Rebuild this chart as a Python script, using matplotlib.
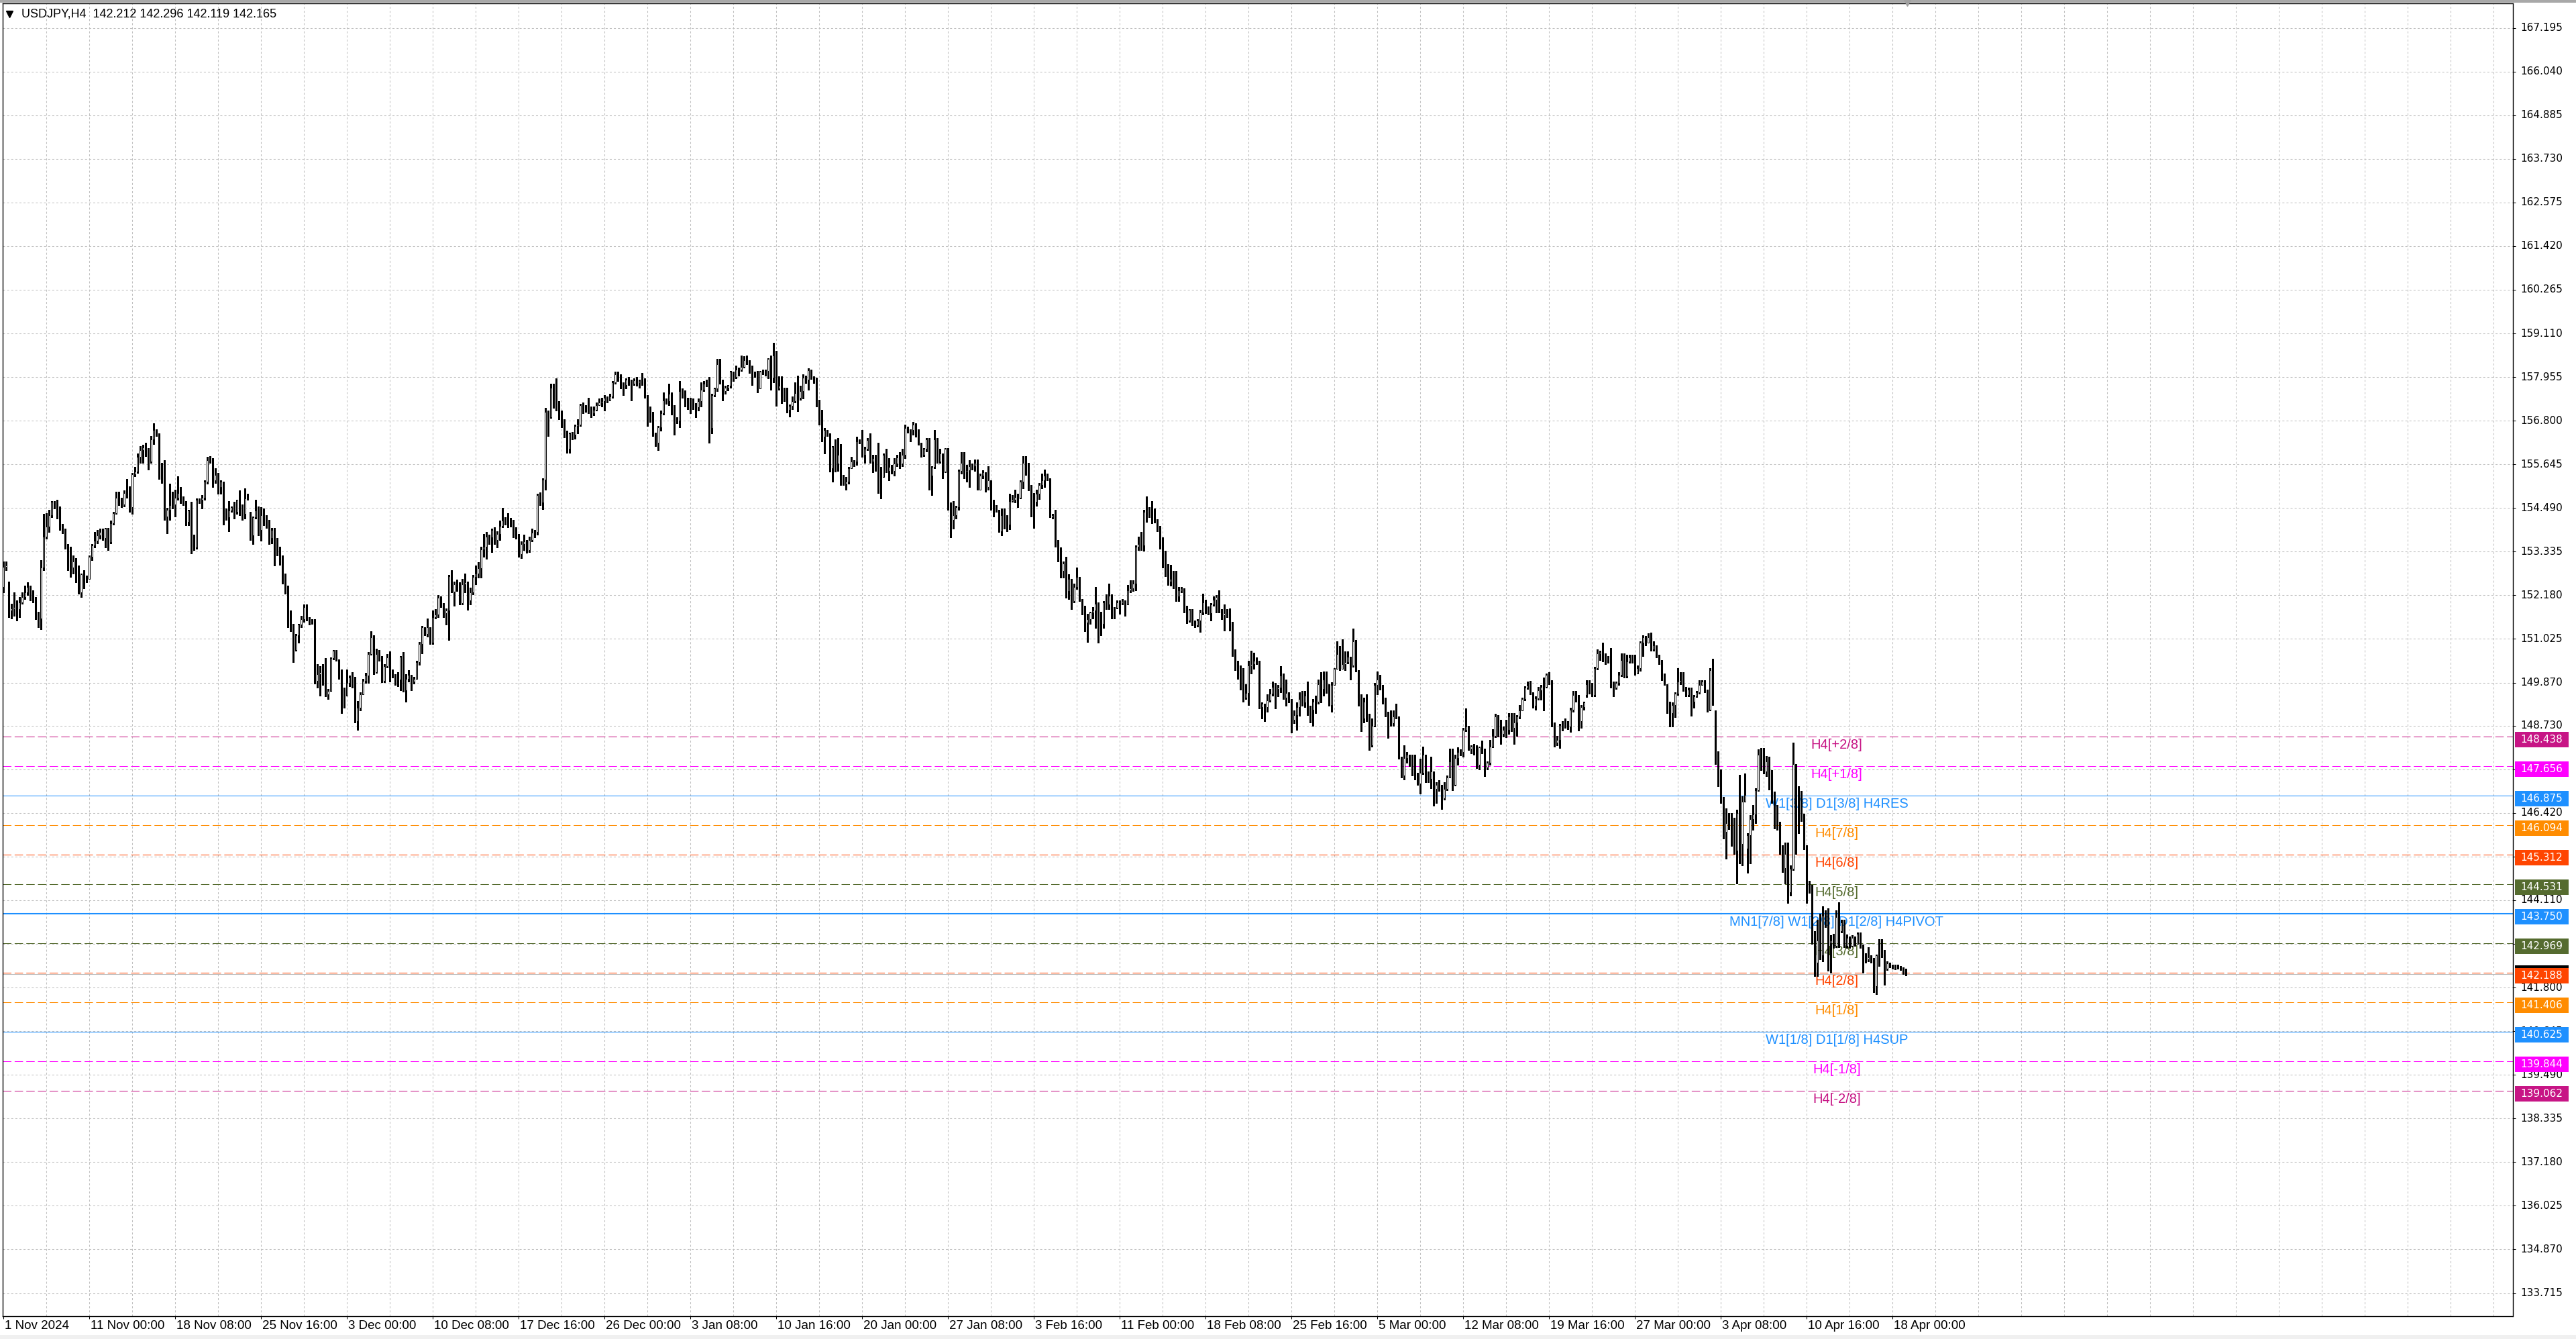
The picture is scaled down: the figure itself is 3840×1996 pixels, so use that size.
import matplotlib
matplotlib.use("Agg")
import matplotlib.pyplot as plt
from matplotlib.patches import Rectangle

plt.rcParams['lines.scale_dashes'] = False

symbol_info = "USDJPY,H4  142.212 142.296 142.119 142.165"

# H4 bars, 1 Nov 2024 16:00 .. 18 Apr 2025 20:00
close_px = [
    152.94, 152.97, 151.78, 151.84, 151.86, 151.82, 151.99, 152.14, 152.25, 152.40,
    152.17, 152.05, 151.69, 151.57, 152.91, 153.74, 154.00, 154.30, 154.65, 154.62,
    154.51, 153.99, 153.93, 153.47, 152.99, 152.91, 153.08, 152.79, 152.25, 152.73,
    152.64, 152.61, 153.20, 153.50, 153.62, 153.77, 153.85, 153.70, 153.94, 153.59,
    154.09, 154.36, 154.77, 154.62, 154.59, 154.89, 154.86, 154.51, 155.39, 155.45,
    155.84, 156.02, 156.10, 156.02, 155.72, 156.31, 156.55, 156.43, 155.33, 155.32,
    154.27, 154.45, 154.56, 154.59, 154.77, 154.89, 154.68, 154.62, 154.12, 154.42,
    153.77, 153.44, 154.71, 154.71, 154.77, 155.19, 155.75, 155.72, 155.22, 155.36,
    155.04, 155.19, 154.36, 154.24, 154.42, 154.51, 154.39, 154.70, 154.48, 154.33,
    154.74, 154.76, 153.77, 154.24, 154.42, 153.91, 154.30, 154.12, 154.03, 153.70,
    153.91, 153.41, 153.32, 153.08, 152.52, 152.43, 151.45, 151.31, 150.74, 151.13,
    151.40, 151.54, 151.87, 151.54, 151.48, 151.50, 149.91, 150.09, 150.15, 149.97,
    149.56, 149.65, 150.51, 150.71, 150.48, 150.06, 149.56, 149.53, 149.86, 150.00,
    150.03, 148.85, 149.20, 149.56, 149.91, 150.06, 150.63, 151.07, 150.15, 150.63,
    150.51, 149.91, 150.30, 150.54,
    150.11, 150.07, 149.94, 149.95, 150.55, 149.66, 149.97, 150.07, 149.90, 149.97,
    150.41, 150.89, 151.33, 151.16, 151.33, 150.92, 151.60, 151.67, 152.11, 151.94,
    151.70, 151.77, 152.69, 152.28, 152.48, 152.48, 151.98, 152.48, 152.52, 152.04,
    152.25, 152.66, 152.76, 152.89, 153.40, 153.47, 153.74, 153.71, 153.91, 153.64,
    153.81, 154.01, 154.15, 154.12, 154.08, 154.08, 153.78, 153.76, 153.27, 153.54,
    153.61, 153.37, 153.64, 153.84, 153.85, 154.83, 154.63, 155.24, 157.04, 156.90,
    157.68, 157.41, 157.24, 157.04, 156.70, 156.53, 156.05, 156.46, 156.43, 156.66,
    156.70, 157.21, 157.17, 157.14, 157.11, 157.00, 157.09, 157.21, 157.29, 157.31,
    157.41, 157.34, 157.45, 157.82, 158.02, 158.02, 157.74, 157.75, 157.89, 157.78,
    157.78, 157.87, 157.82, 157.85, 157.82, 157.44, 157.14, 156.83, 156.43, 156.22,
    156.63, 157.00, 157.34, 157.31, 157.51, 157.17, 156.80, 156.80, 157.58, 157.51,
    157.28, 157.26, 157.24, 157.17, 157.15, 157.31, 157.62, 157.78, 157.78, 156.60,
    157.48, 157.65, 158.29, 157.85, 157.58, 157.68, 157.72, 158.09, 157.95, 158.16,
    158.15, 158.23, 158.40, 158.36, 158.09, 158.06, 158.06, 157.65, 158.09, 158.09,
    158.12, 158.43,
    157.94, 158.53, 157.65, 157.73, 157.44, 157.41, 157.08, 157.20, 157.32, 157.53,
    157.41, 157.59, 157.94, 157.88, 158.13, 157.94, 157.82, 157.32, 156.85, 156.37,
    156.55, 156.46, 155.54, 156.11, 155.66, 155.90, 155.25, 155.13, 155.19, 155.54,
    155.72, 155.72, 156.25, 156.26, 155.90, 156.05, 156.28, 155.72, 155.81, 155.60,
    155.54, 155.31, 155.90, 155.48, 155.57, 155.48, 155.67, 155.82, 155.66, 155.90,
    156.61, 156.53, 156.55, 156.70, 156.37, 156.19, 155.90, 156.05, 156.31, 155.34,
    155.57, 156.31, 155.72, 155.93, 155.46, 156.05, 154.60, 154.18, 154.30, 154.51,
    155.48, 155.69, 155.46, 155.49, 155.60, 155.60, 155.69, 154.98, 155.34, 155.43,
    155.04, 155.22, 154.63, 154.48, 154.42, 153.88, 154.30, 154.27, 154.06, 154.68,
    154.70, 154.78, 154.76, 155.19, 155.69, 155.57, 154.98, 154.66, 154.65, 154.86,
    155.10, 155.22, 155.34, 155.25, 154.24, 154.30, 153.59, 153.41, 152.82, 153.03,
    152.29, 152.61, 152.02, 152.40, 152.67, 152.05, 151.87, 151.46, 151.55, 151.72,
    151.78, 151.96, 151.66, 151.43, 151.99, 151.93, 152.17, 151.84, 151.85, 151.99,
    152.00, 152.02, 151.93, 152.31, 152.37, 152.49, 153.47, 153.53, 153.50, 154.39,
    154.40, 154.42, 154.24,
    154.14, 153.96, 153.50, 153.16, 152.77, 152.55, 152.61, 152.49, 152.15, 152.31,
    152.34, 151.88, 151.51, 151.79, 151.48, 151.39, 151.51, 151.73, 152.00, 151.82,
    151.70, 151.94, 152.06, 152.14, 151.76, 151.65, 151.70, 151.67, 151.48, 150.63,
    150.38, 150.29, 150.08, 149.47, 149.59, 150.32, 150.35, 150.44, 150.41, 149.22,
    149.31, 149.22, 149.40, 149.57, 149.75, 149.71, 149.74, 150.06, 149.47, 149.59,
    149.43, 148.89, 149.01, 149.22, 149.43, 149.34, 149.53, 149.13, 149.16, 149.37,
    149.37, 149.83, 149.71, 149.95, 149.80, 149.28, 149.81, 150.24, 150.63, 150.24,
    150.35, 150.41, 150.56, 150.32, 150.96, 150.17, 149.47, 148.92, 149.37, 149.04,
    148.21, 148.73, 149.80, 149.95, 149.71, 149.34, 149.01, 148.85, 148.79, 148.98,
    148.92, 147.88, 147.42, 147.88, 147.97, 147.84, 147.45, 147.42, 147.20, 147.48,
    147.97, 147.42, 147.33, 147.51, 147.05, 147.17, 147.17, 146.81, 147.05, 147.36,
    147.79, 147.17, 147.88, 148.03, 148.04, 148.61, 148.70, 148.12, 148.18, 148.12,
    147.69, 148.15, 148.09, 147.63, 147.75, 148.18, 148.46, 148.98, 148.49, 148.52,
    148.61, 148.61, 148.98, 148.67, 148.82, 148.98, 149.13, 149.43, 149.74, 149.79,
    149.59, 149.25,
    149.46, 149.66, 149.76, 149.75, 150.08, 149.90, 148.78, 148.28, 148.35, 148.74,
    148.76, 148.78, 148.71, 149.16, 149.55, 149.55, 148.85, 149.23, 149.34, 149.83,
    149.83, 149.55, 150.25, 150.64, 150.67, 150.64, 150.50, 150.50, 149.76, 149.73,
    149.87, 150.08, 150.46, 150.04, 150.43, 150.54, 150.54, 150.11, 150.25, 150.92,
    151.06, 150.92, 151.06, 150.75, 150.85, 150.57, 150.43, 149.97, 149.83, 149.27,
    149.06, 149.27, 149.58, 149.90, 149.94, 149.69, 149.55, 149.69, 149.37, 149.51,
    149.62, 149.80, 149.90, 149.65, 149.16, 150.20, 149.30, 147.90, 147.58, 146.84,
    145.92, 146.16, 146.17, 145.98, 145.42, 146.42, 145.60, 146.72, 146.90, 145.83,
    146.25, 146.39, 147.02, 147.96, 147.84, 147.52, 147.78, 147.43, 146.84, 146.54,
    146.13, 145.42, 144.97, 145.33, 144.32, 144.94, 147.72, 146.63, 146.33, 146.30,
    145.48, 144.56, 144.50, 143.10, 142.45, 143.05, 142.65, 143.70, 143.55, 142.97,
    143.04, 142.90, 143.67, 143.29, 143.53, 142.90, 143.11, 142.90, 143.11, 142.95,
    143.22, 142.90, 142.58, 142.55, 142.60, 142.51, 141.84, 142.65, 142.65, 142.67,
    142.30, 142.44, 142.37, 142.34, 142.33, 142.34, 142.30, 142.21, 142.165,
]

high_px = [
    153.08, 153.08, 152.55, 151.96, 152.25, 152.05, 152.14, 152.25, 152.43, 152.52,
    152.43, 152.31, 152.14, 151.75, 153.11, 154.33, 154.36, 154.45, 154.68, 154.68,
    154.70, 154.53, 154.07, 153.94, 153.53, 153.47, 153.23, 153.17, 152.97, 152.76,
    152.85, 152.70, 153.23, 153.53, 153.85, 153.91, 153.94, 153.94, 153.97, 153.97,
    154.15, 154.39, 154.92, 154.92, 154.77, 154.95, 155.25, 155.07, 155.42, 155.57,
    155.93, 156.13, 156.16, 156.22, 156.07, 156.40, 156.73, 156.58, 156.46, 155.69,
    155.75, 154.50, 155.13, 154.92, 154.98, 155.33, 155.04, 154.80, 154.68, 154.45,
    154.65, 153.79, 154.74, 154.74, 154.83, 155.22, 155.84, 155.87, 155.81, 155.54,
    155.42, 155.22, 155.19, 154.48, 154.68, 154.53, 154.65, 154.71, 154.95, 154.59,
    155.01, 154.86, 154.39, 154.27, 154.71, 154.53, 154.51, 154.48, 154.30, 154.18,
    153.97, 153.97, 153.70, 153.47, 153.23, 152.76, 152.43, 151.78, 151.43, 151.16,
    151.43, 151.63, 151.93, 151.93, 151.60, 151.54, 151.54, 150.36, 150.30, 150.36,
    150.51, 149.71, 150.54, 150.74, 150.74, 150.39, 150.21, 149.74, 150.21, 150.06,
    150.15, 149.83, 149.38, 149.62, 149.97, 150.12, 150.68, 151.22, 151.13, 150.77,
    150.74, 150.57, 150.36, 150.63,
    150.70, 150.21, 150.10, 150.14, 150.58, 150.68, 150.09, 150.20, 150.07, 150.03,
    150.45, 150.95, 151.37, 151.33, 151.57, 151.33, 151.77, 151.81, 152.18, 152.15,
    151.98, 151.84, 152.72, 152.85, 152.55, 152.60, 152.52, 152.62, 152.76, 152.55,
    152.38, 152.72, 152.96, 153.06, 153.47, 153.80, 153.85, 153.78, 153.95, 153.98,
    153.88, 154.15, 154.49, 154.25, 154.35, 154.23, 154.18, 153.98, 153.81, 153.61,
    153.78, 153.65, 153.74, 153.95, 153.91, 154.86, 154.90, 155.27, 157.14, 157.07,
    157.78, 157.78, 157.92, 157.31, 157.07, 156.83, 156.49, 156.49, 156.50, 156.70,
    156.83, 157.24, 157.28, 157.21, 157.41, 157.17, 157.17, 157.28, 157.38, 157.41,
    157.48, 157.45, 157.51, 157.85, 158.09, 158.09, 157.95, 157.82, 157.92, 157.95,
    157.89, 157.92, 157.95, 157.89, 158.06, 157.92, 157.48, 157.17, 157.04, 156.49,
    156.66, 157.07, 157.55, 157.38, 157.78, 157.55, 157.21, 156.90, 157.85, 157.65,
    157.61, 157.40, 157.41, 157.38, 157.26, 157.38, 157.82, 157.85, 157.88, 157.95,
    157.51, 157.68, 158.43, 158.43, 157.89, 157.72, 157.75, 158.12, 158.06, 158.26,
    158.20, 158.53, 158.50, 158.53, 158.40, 158.26, 158.10, 158.12, 158.12, 158.16,
    158.16, 158.46,
    158.53, 158.87, 158.65, 157.97, 157.97, 157.68, 157.68, 157.23, 157.44, 157.82,
    158.00, 157.73, 158.03, 158.00, 158.18, 158.15, 157.97, 157.94, 157.35, 157.08,
    156.61, 156.56, 156.34, 156.13, 156.31, 156.34, 156.19, 155.37, 155.31, 155.57,
    155.84, 155.75, 156.37, 156.31, 156.56, 156.11, 156.34, 156.46, 155.90, 155.90,
    156.22, 155.57, 155.93, 156.05, 155.81, 155.63, 155.81, 155.90, 155.96, 156.05,
    156.70, 156.64, 156.58, 156.76, 156.73, 156.58, 156.22, 156.08, 156.34, 156.34,
    155.60, 156.56, 156.34, 156.05, 155.90, 156.08, 156.08, 154.63, 154.68, 154.54,
    155.51, 155.96, 155.96, 155.63, 155.75, 155.66, 155.78, 155.78, 155.40, 155.49,
    155.43, 155.60, 155.22, 154.71, 154.57, 154.45, 154.48, 154.48, 154.30, 154.86,
    154.83, 154.98, 154.86, 155.22, 155.87, 155.87, 155.69, 155.10, 154.89, 154.98,
    155.16, 155.40, 155.51, 155.40, 155.28, 154.33, 154.45, 153.65, 153.44, 153.08,
    153.20, 152.73, 152.58, 152.49, 152.91, 152.67, 152.08, 151.90, 151.69, 151.75,
    151.87, 152.40, 151.99, 151.75, 152.02, 152.20, 152.49, 152.20, 151.87, 152.05,
    152.05, 152.08, 152.05, 152.46, 152.58, 152.58, 153.50, 153.73, 153.85, 154.45,
    154.80, 154.51, 154.68,
    154.48, 154.20, 154.02, 153.71, 153.35, 153.01, 152.98, 152.83, 152.83, 152.40,
    152.40, 152.37, 151.91, 151.82, 151.82, 151.51, 151.54, 151.79, 152.22, 152.06,
    151.88, 151.97, 152.15, 152.19, 152.31, 151.82, 151.94, 151.82, 151.83, 151.42,
    150.75, 150.44, 150.32, 150.26, 149.83, 150.44, 150.72, 150.66, 150.53, 150.44,
    149.34, 149.31, 149.56, 149.71, 149.89, 149.86, 149.80, 150.30, 150.11, 149.95,
    149.62, 149.43, 149.13, 149.34, 149.62, 149.65, 149.65, 149.89, 149.25, 149.43,
    149.53, 149.95, 150.14, 150.17, 150.17, 149.83, 149.88, 150.26, 150.96, 150.84,
    151.02, 150.69, 150.69, 150.50, 151.30, 150.99, 150.20, 149.56, 149.47, 149.56,
    149.04, 148.92, 149.86, 150.17, 150.08, 149.80, 149.47, 149.10, 149.13, 149.13,
    149.31, 148.98, 147.90, 148.21, 148.03, 147.95, 147.97, 147.97, 147.48, 147.85,
    148.18, 147.61, 147.51, 147.91, 147.30, 147.23, 147.29, 147.17, 147.23, 147.42,
    148.12, 148.12, 147.97, 148.15, 148.10, 148.67, 149.19, 148.73, 148.21, 148.24,
    148.21, 148.18, 148.34, 148.12, 147.78, 148.36, 148.64, 149.04, 149.01, 148.88,
    148.70, 148.88, 149.07, 149.07, 149.07, 149.01, 149.28, 149.47, 149.77, 149.89,
    149.92, 149.62,
    149.51, 149.76, 149.80, 150.01, 150.11, 150.15, 149.93, 148.81, 148.46, 148.78,
    148.85, 148.92, 148.85, 149.20, 149.65, 149.65, 149.44, 149.27, 149.37, 149.94,
    149.94, 149.87, 150.29, 150.75, 150.71, 150.92, 150.64, 150.57, 150.78, 149.90,
    149.90, 150.15, 150.64, 150.64, 150.60, 150.60, 150.60, 150.60, 150.32, 150.96,
    151.13, 151.10, 151.17, 151.20, 150.96, 150.85, 150.60, 150.46, 150.11, 149.83,
    149.37, 149.34, 149.62, 150.25, 150.15, 150.15, 149.76, 149.73, 149.73, 149.55,
    149.65, 149.94, 149.94, 149.94, 149.69, 150.25, 150.50, 149.13, 148.05, 147.58,
    146.84, 146.54, 146.42, 146.42, 146.30, 146.51, 147.43, 146.87, 147.46, 145.89,
    146.36, 146.63, 147.07, 148.11, 148.14, 148.14, 147.93, 147.90, 147.55, 146.99,
    146.63, 146.19, 145.57, 145.63, 145.63, 145.03, 148.29, 147.64, 147.13, 147.00,
    146.40, 145.57, 144.62, 144.52, 143.30, 143.60, 143.75, 143.95, 143.85, 143.90,
    143.18, 143.22, 143.85, 144.06, 143.60, 143.60, 143.20, 143.15, 143.18, 143.15,
    143.25, 143.25, 142.93, 142.70, 142.86, 142.65, 142.58, 142.68, 143.08, 143.08,
    142.79, 142.50, 142.46, 142.40, 142.40, 142.40, 142.37, 142.34, 142.296,
]

low_px = [
    152.25, 152.85, 151.60, 151.57, 151.63, 151.51, 151.60, 151.96, 152.08, 152.19,
    152.05, 151.99, 151.54, 151.34, 151.28, 152.85, 153.68, 153.85, 154.24, 154.48,
    154.21, 153.91, 153.82, 153.41, 152.85, 152.67, 152.76, 152.52, 152.22, 152.14,
    152.37, 152.52, 152.64, 153.11, 153.44, 153.56, 153.68, 153.65, 153.44, 153.38,
    153.56, 154.06, 154.33, 154.57, 154.51, 154.53, 154.77, 154.39, 154.33, 155.33,
    155.42, 155.69, 155.69, 155.87, 155.51, 155.69, 156.19, 156.40, 155.25, 155.16,
    154.18, 153.82, 154.18, 154.48, 154.27, 154.71, 154.62, 154.56, 154.03, 154.03,
    153.29, 153.38, 153.41, 154.62, 154.48, 154.71, 155.13, 155.69, 155.04, 155.16,
    154.86, 154.86, 154.06, 154.18, 153.88, 154.39, 154.21, 154.33, 154.30, 154.18,
    154.21, 154.71, 153.65, 153.53, 154.21, 153.77, 153.62, 154.03, 153.97, 153.53,
    153.56, 152.97, 153.23, 152.99, 152.49, 152.22, 151.34, 151.22, 150.42, 150.71,
    150.92, 151.34, 151.48, 151.51, 151.40, 151.42, 149.85, 149.74, 149.53, 149.80,
    149.50, 149.44, 149.65, 150.48, 150.45, 149.97, 149.06, 149.20, 149.53, 149.77,
    149.74, 148.82, 148.61, 149.14, 149.56, 149.86, 149.86, 150.60, 150.09, 150.12,
    150.45, 149.88, 149.88, 150.27,
    149.90, 150.00, 149.80, 149.77, 149.66, 149.63, 149.36, 149.90, 149.67, 149.85,
    149.97, 150.34, 150.65, 151.13, 151.09, 150.89, 150.89, 151.57, 151.60, 151.87,
    151.60, 151.40, 150.99, 152.25, 151.91, 152.30, 151.94, 151.94, 152.25, 151.80,
    151.94, 152.20, 152.48, 152.65, 152.65, 153.20, 153.15, 153.54, 153.33, 153.54,
    153.44, 153.64, 153.98, 154.05, 153.98, 154.00, 153.71, 153.67, 153.20, 153.17,
    153.37, 153.30, 153.33, 153.61, 153.71, 153.78, 154.56, 154.46, 154.97, 156.39,
    156.87, 157.14, 157.07, 156.83, 156.63, 156.36, 155.95, 155.95, 156.30, 156.32,
    156.46, 156.66, 157.00, 157.04, 157.00, 156.90, 156.94, 157.07, 157.21, 157.17,
    157.07, 157.28, 157.34, 157.41, 157.78, 157.85, 157.65, 157.48, 157.65, 157.75,
    157.34, 157.75, 157.72, 157.68, 157.75, 157.41, 156.66, 156.77, 156.39, 156.12,
    156.02, 156.53, 156.97, 157.24, 157.21, 156.97, 156.43, 156.73, 156.63, 157.41,
    157.17, 157.10, 157.00, 157.11, 156.90, 157.07, 157.17, 157.58, 157.70, 156.22,
    156.46, 157.44, 157.58, 157.78, 157.34, 157.51, 157.60, 157.68, 157.85, 157.92,
    158.00, 158.12, 158.20, 158.30, 158.06, 157.75, 157.95, 157.55, 157.65, 158.02,
    158.00, 157.92,
    157.62, 157.82, 157.20, 157.62, 157.26, 157.32, 157.02, 156.91, 157.11, 157.29,
    157.05, 157.35, 157.38, 157.80, 157.62, 157.91, 157.79, 157.17, 156.70, 156.26,
    155.93, 156.40, 155.46, 155.19, 155.46, 155.48, 155.10, 155.10, 154.98, 155.13,
    155.54, 155.60, 155.63, 156.20, 155.84, 155.69, 156.02, 155.69, 155.43, 155.48,
    154.89, 154.74, 155.31, 155.43, 155.22, 155.40, 155.34, 155.60, 155.54, 155.60,
    155.81, 156.49, 156.26, 156.43, 156.37, 156.16, 155.84, 155.87, 155.99, 154.98,
    154.83, 155.54, 155.69, 155.69, 155.28, 155.43, 154.45, 153.71, 153.94, 154.21,
    154.45, 155.40, 155.28, 155.19, 155.04, 155.50, 155.48, 154.98, 154.98, 155.28,
    154.92, 154.98, 154.45, 154.27, 154.39, 153.86, 153.77, 153.94, 153.88, 153.92,
    154.66, 154.63, 154.51, 154.74, 155.01, 155.37, 154.95, 154.27, 153.97, 154.54,
    154.72, 155.01, 155.04, 155.22, 154.24, 154.21, 153.47, 153.08, 152.64, 152.64,
    152.11, 152.08, 151.81, 151.99, 152.34, 152.02, 151.67, 151.22, 150.95, 151.43,
    151.57, 151.31, 150.92, 151.13, 151.31, 151.81, 151.81, 151.57, 151.57, 151.84,
    151.69, 151.93, 151.63, 151.93, 152.26, 152.29, 152.32, 153.38, 153.38, 153.35,
    154.12, 154.24, 154.09,
    154.11, 153.87, 153.41, 152.92, 152.68, 152.46, 152.43, 152.37, 152.03, 152.03,
    152.25, 151.73, 151.45, 151.48, 151.39, 151.33, 151.36, 151.21, 151.67, 151.70,
    151.67, 151.51, 151.91, 151.73, 151.73, 151.54, 151.24, 151.61, 151.24, 150.57,
    150.20, 149.96, 149.68, 149.37, 149.43, 149.28, 150.11, 150.23, 150.35, 149.19,
    148.92, 148.85, 149.10, 149.37, 149.53, 149.19, 149.50, 149.62, 149.43, 149.25,
    149.34, 148.55, 148.79, 148.61, 148.99, 149.25, 149.22, 149.01, 148.82, 148.73,
    149.07, 149.31, 149.34, 149.53, 149.59, 149.25, 149.10, 149.81, 150.24, 150.20,
    150.23, 150.20, 150.38, 149.95, 150.29, 150.17, 149.25, 148.58, 148.82, 148.85,
    148.09, 148.18, 148.70, 149.56, 149.68, 149.31, 148.98, 148.40, 148.73, 148.73,
    148.92, 147.85, 147.36, 147.30, 147.75, 147.66, 147.42, 147.30, 147.17, 146.93,
    147.45, 147.24, 147.23, 147.08, 146.62, 146.68, 147.00, 146.53, 146.78, 147.02,
    147.36, 147.02, 147.14, 147.70, 147.95, 147.91, 148.58, 148.09, 148.00, 147.97,
    147.60, 147.57, 148.00, 147.39, 147.57, 147.69, 148.15, 148.42, 148.45, 148.24,
    148.45, 148.43, 148.52, 148.58, 148.24, 148.46, 148.92, 149.13, 149.40, 149.71,
    149.56, 149.20,
    149.16, 149.41, 149.41, 149.13, 149.73, 149.83, 148.71, 148.18, 148.21, 148.14,
    148.60, 148.67, 148.64, 148.56, 149.09, 149.37, 148.60, 148.67, 149.16, 149.48,
    149.58, 149.51, 149.51, 150.22, 150.46, 150.43, 150.36, 150.40, 149.73, 149.51,
    149.70, 149.80, 150.04, 150.01, 150.00, 150.39, 150.40, 150.08, 150.11, 150.18,
    150.57, 150.85, 150.99, 150.71, 150.71, 150.54, 150.36, 149.94, 149.80, 149.06,
    148.70, 148.70, 148.95, 149.55, 149.83, 149.65, 149.51, 149.51, 148.99, 149.20,
    149.48, 149.58, 149.80, 149.62, 149.09, 149.13, 149.27, 147.72, 147.13, 146.69,
    145.75, 145.21, 146.00, 145.54, 145.33, 144.56, 145.09, 145.03, 146.75, 144.83,
    145.09, 145.98, 146.16, 147.01, 147.55, 147.46, 147.40, 147.04, 146.69, 146.01,
    145.98, 145.33, 144.86, 144.56, 144.03, 144.23, 144.91, 145.33, 145.89, 146.20,
    145.45, 144.03, 144.30, 142.95, 142.10, 142.10, 142.55, 142.50, 143.40, 142.25,
    142.20, 142.85, 142.86, 142.86, 143.25, 142.86, 142.85, 142.85, 142.88, 142.90,
    142.95, 142.85, 142.20, 142.45, 142.50, 142.45, 141.67, 141.63, 142.37, 142.60,
    141.88, 142.27, 142.34, 142.30, 142.28, 142.30, 142.26, 142.16, 142.119,
]

# opens that differ from the previous close (weekend / news gaps)
gap_open = {0: 152.40, 2: 152.40, 92: 154.30, 590: 149.55, 638: 148.88, 650: 145.48, 709: 142.212}

time_ticks = [0, 32, 64, 96, 128, 160, 192, 224, 256, 288, 320, 352,
              384, 416, 448, 480, 512, 544, 576, 608, 640, 672, 704]
time_labels = ["1 Nov 2024", "11 Nov 00:00", "18 Nov 08:00", "25 Nov 16:00", "3 Dec 00:00",
               "10 Dec 08:00", "17 Dec 16:00", "26 Dec 00:00", "3 Jan 08:00", "10 Jan 16:00",
               "20 Jan 00:00", "27 Jan 08:00", "3 Feb 16:00", "11 Feb 00:00", "18 Feb 08:00",
               "25 Feb 16:00", "5 Mar 00:00", "12 Mar 08:00", "19 Mar 16:00", "27 Mar 00:00",
               "3 Apr 08:00", "10 Apr 16:00", "18 Apr 00:00"]

price_ticks = [167.195, 166.040, 164.885, 163.730, 162.575, 161.420, 160.265, 159.110,
               157.955, 156.800, 155.645, 154.490, 153.335, 152.180, 151.025, 149.870,
               148.730, 147.575, 146.420, 145.265, 144.110, 142.955, 141.800, 140.645,
               139.490, 138.335, 137.180, 136.025, 134.870, 133.715]

level_price = [148.438, 147.656, 146.875, 146.094, 145.312, 144.531, 143.750,
               142.969, 142.188, 141.406, 140.625, 139.844, 139.062]
level_name = ["H4[+2/8]", "H4[+1/8]", "W1[3/8] D1[3/8] H4RES", "H4[7/8]", "H4[6/8]",
              "H4[5/8]", "MN1[7/8] W1[2/8] D1[2/8] H4PIVOT", "H4[3/8]", "H4[2/8]",
              "H4[1/8]", "W1[1/8] D1[1/8] H4SUP", "H4[-1/8]", "H4[-2/8]"]
level_color = ["#C71585", "#FF00FF", "#1E90FF", "#FF8C00", "#FF4500", "#556B2F", "#1E90FF",
               "#556B2F", "#FF4500", "#FF8C00", "#1E90FF", "#FF00FF", "#C71585"]
level_kind = ["dash", "dash", "thin", "dash", "dash", "dash", "thick",
              "dash", "dash", "dash", "thin", "dash", "dash"]
bid_price = 142.165

# ---- figure layout (pixel based, 3840 x 1996) ----
W, H = 3840, 1996
fig = plt.figure(figsize=(W / 100, H / 100), dpi=100, facecolor="white")


def rect(l, t, r, b):
    return [l / W, 1 - b / H, (r - l) / W, (b - t) / H]


PL, PR, PT, PB = 3.5, 3745.5, 5.0, 1962.0
ax = fig.add_axes(rect(PL, PT, PR, PB))
ax.set_xlim(-0.375, 935.125)
ax.set_ylim(133.103, 167.845)
ppu = (PB - PT) / (167.845 - 133.103)  # pixels per price unit

for s in ax.spines.values():
    s.set_color("black")
    s.set_linewidth(1.0)

ax.set_xticks(range(16, 936, 16))
ax.set_yticks(price_ticks)
ax.tick_params(length=0, labelbottom=False, labelleft=False)
ax.set_axisbelow(True)
ax.grid(True, color="#c0c0c0", linewidth=0.75, linestyle=(0, (2.2, 2.2)))

# levels
for p, name, col, kind in zip(level_price, level_name, level_color, level_kind):
    if kind == "dash":
        ax.axhline(p, color=col, linewidth=0.75, linestyle=(0, (9, 3.5)), zorder=2)
    elif kind == "thin":
        ax.axhline(p, color=col, linewidth=0.75, zorder=2)
    else:
        ax.axhline(p, color=col, linewidth=1.5, zorder=2)
    ax.text(683.25, p - 3 / ppu, name, color=col, fontsize=14.5, family="Liberation Sans",
            ha="center", va="top", zorder=3)

ax.axhline(bid_price, color="#b8b8b8", linewidth=0.75, zorder=1.8)

# candles
n = min(len(close_px), len(high_px), len(low_px))
xs = list(range(n))
opens = [gap_open.get(i, close_px[i - 1] if i else close_px[0]) for i in xs]
hi = [max(high_px[i], opens[i], close_px[i]) for i in xs]
lo = [min(low_px[i], opens[i], close_px[i]) for i in xs]
ax.vlines(xs, lo, hi, color="black", linewidth=0.75, zorder=4, antialiased=False)

up = [i for i in xs if close_px[i] >= opens[i]]
dn = [i for i in xs if close_px[i] < opens[i]]
ax.bar(up, [max(close_px[i] - opens[i], 0.012) for i in up], bottom=[opens[i] for i in up],
       width=0.55, facecolor="white", edgecolor="black", linewidth=0.75, zorder=5)
ax.bar(dn, [opens[i] - close_px[i] for i in dn], bottom=[close_px[i] for i in dn],
       width=0.55, facecolor="black", edgecolor="black", linewidth=0.75, zorder=5)

# ---- price scale on the right ----
axr = fig.add_axes(rect(PR, PT, W, PB), sharey=ax)
axr.set_xlim(0, W - PR)
axr.axis("off")
axr.hlines(price_ticks, 0, 4.5, color="black", linewidth=0.75)
for v in price_ticks:
    axr.text(11.5, v, f"{v:.3f}", fontsize=11, family="DejaVu Sans", color="black",
             ha="left", va="center", zorder=3)

axr.add_patch(Rectangle((3.2, bid_price - 9 / ppu), 80.5, 22 / ppu,
                        facecolor="black", edgecolor="none", zorder=5))
for p, col in zip(level_price, level_color):
    axr.add_patch(Rectangle((3.2, p - 15.5 / ppu), 80.5, 22.5 / ppu,
                            facecolor=col, edgecolor="none", zorder=6))
    axr.text(11.5, p - 4.3 / ppu, f"{p:.3f}", fontsize=11, family="DejaVu Sans",
             color="white", ha="left", va="center", zorder=7)

# ---- time scale at the bottom ----
axb = fig.add_axes(rect(PL, PB, PR, H), sharex=ax)
axb.set_ylim(H - PB, 0)
axb.axis("off")
axb.vlines(time_ticks, 0, 4, color="black", linewidth=0.75)
for t, lab in zip(time_ticks, time_labels):
    axb.text(t + 0.4, 6, lab, fontsize=13.5, family="Liberation Sans", color="black",
             ha="left", va="top", clip_on=False)

# ---- window chrome ----
fig.add_artist(Rectangle((0, 1 - 4 / H), 1, 4 / H, transform=fig.transFigure,
                         facecolor="#a8a8a8", edgecolor="none"))
fig.add_artist(Rectangle((0, 0), 1, 6 / H, transform=fig.transFigure,
                         facecolor="#f0f0f0", edgecolor="none"))
fig.text(32 / W, 1 - 21 / H, symbol_info, fontsize=13, family="Liberation Sans",
         color="black", ha="left", va="center")
fig.lines.append(plt.Line2D([14 / W], [1 - 21 / H], marker="v", markersize=6.5,
                            color="black", transform=fig.transFigure))
fig.lines.append(plt.Line2D([2843 / W], [1 - 4 / H], marker="v", markersize=7,
                            color="#a0a0a0", transform=fig.transFigure))

fig.savefig("out.png", dpi=100, facecolor="white")
